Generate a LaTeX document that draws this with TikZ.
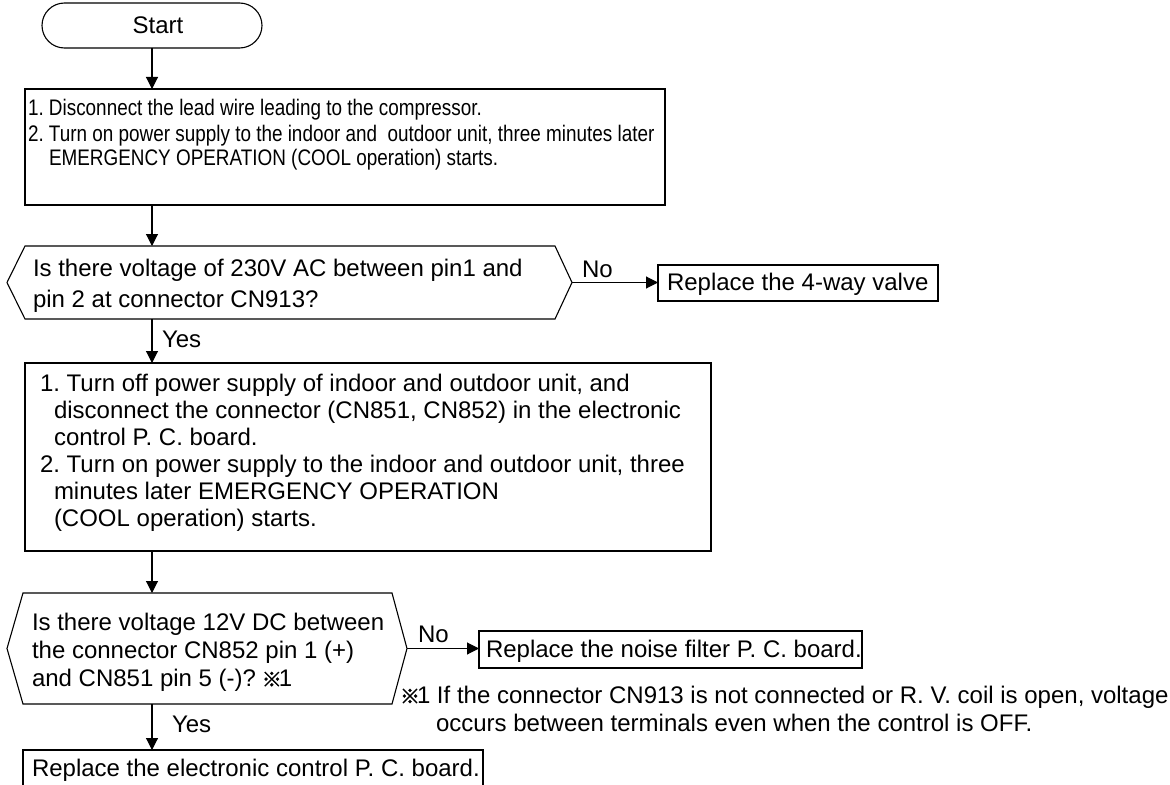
\documentclass[tikz,border=0pt]{standalone}
\usepackage{fontspec}
\setmainfont{Liberation Sans}
\newfontfamily\narrowfont[FakeStretch=0.84]{Liberation Sans}
\newfontfamily\refmarkfont[FakeBold=2]{Noto Sans CJK JP}
\newcommand{\refmark}{\kern-1bp{\refmarkfont\fontsize{20bp}{20bp}\selectfont ※}\kern-3bp}
\usetikzlibrary{arrows.meta}
\frenchspacing
\begin{document}
\begin{tikzpicture}[x=1bp,y=-1bp,
  every node/.style={inner sep=0pt, outer sep=0pt},
  terminal/.style={draw, line width=1.1bp, rounded corners=22.5bp, minimum width=220bp, minimum height=45bp},
  procbox/.style={draw, line width=1.1bp},
  resultbox/.style={draw, line width=2.2bp},
  txt/.style={anchor=base west, font=\frenchspacing\fontsize{24bp}{27bp}\selectfont},
  stxt/.style={anchor=base west, font=\frenchspacing\narrowfont\fontsize{22.5bp}{24bp}\selectfont},
  flow/.style={line width=1.1bp, -{Triangle[length=12bp,width=12bp]}},
  decision/.style={line width=1.1bp, line join=miter},
]
\useasboundingbox (0,0) rectangle (1170,785);
\fill[white] (0,0) rectangle (1170,785);
\coordinate (axis) at (152,0);

% Start
\node[terminal] (start) at (152,25.5) {};
\node[txt, anchor=base] (starttxt) at (158,34) {Start};

% Box 1
\node[procbox, minimum width=640bp, minimum height=116bp] (b1) at (345,147) {};
\node[stxt] (b1a) at (28,116) {1. Disconnect the lead wire leading to the compressor.};
\node[stxt] (b1b) at (28,141) {2. Turn on power supply to the indoor and\ \ outdoor unit, three minutes later};
\node[stxt] (b1c) at (49,165) {EMERGENCY OPERATION (COOL operation) starts.};

% Decision 1
\node[minimum width=565bp, minimum height=73bp] (d1) at (289.5,282.5) {};
\draw[decision] (d1.west) -- ([xshift=18bp]d1.north west) -- ([xshift=-17bp]d1.north east) -- (d1.east) -- ([xshift=-17bp]d1.south east) -- ([xshift=18bp]d1.south west) -- cycle;
\node[txt] (d1a) at (33,276.7) {Is there voltage of 230V AC between pin1 and};
\node[txt] (d1b) at (33,307.3) {pin 2 at connector CN913?};
\node[txt] (no1) at (582,277) {No};
\node[txt] (yes1) at (162,347.5) {Yes};

% 4-way valve
\node[resultbox, minimum width=280bp, minimum height=36bp] (valve) at (798,283) {};
\node[txt] (valvetxt) at (667,290.5) {Replace the 4-way valve};

% Box 2
\node[procbox, minimum width=686bp, minimum height=188bp] (b2) at (368,457) {};
\node[txt] (b2a) at (40,391) {1. Turn off power supply of indoor and outdoor unit, and};
\node[txt] (b2b) at (54,418) {disconnect the connector (CN851, CN852) in the electronic};
\node[txt] (b2c) at (54,445) {control P. C. board.};
\node[txt] (b2d) at (40,472) {2. Turn on power supply to the indoor and outdoor unit, three};
\node[txt] (b2e) at (54,499) {minutes later EMERGENCY OPERATION};
\node[txt] (b2f) at (54,526) {(COOL operation) starts.};

% Decision 2
\node[minimum width=400bp, minimum height=111bp] (d2) at (207,648.5) {};
\draw[decision] (d2.west) -- ([xshift=16bp]d2.north west) -- ([xshift=-15bp]d2.north east) -- (d2.east) -- ([xshift=-15bp]d2.south east) -- ([xshift=16bp]d2.south west) -- cycle;
\node[txt] (d2a) at (32,630) {Is there voltage 12V DC between};
\node[txt] (d2b) at (32,658.3) {the connector CN852 pin 1 (+)};
\node[txt] (d2c) at (32,686.7) {and CN851 pin 5 (-)? \refmark1};
\node[txt] (no2) at (418,642) {No};
\node[txt] (yes2) at (172,732) {Yes};

% Noise filter
\node[resultbox, minimum width=383bp, minimum height=37bp] (noise) at (670.5,649.5) {};
\node[txt] (noisetxt) at (486,657) {Replace the noise filter P. C. board.};

% Footnote
\node[txt] (fn1) at (401,703.6) {\refmark1 If the connector CN913 is not connected or R. V. coil is open, voltage};
\node[txt] (fn2) at (436,731.6) {occurs between terminals even when the control is OFF.};

% Final box
\node[resultbox, minimum width=460bp, minimum height=50bp] (final) at (253,775) {};
\node[txt] (finaltxt) at (32,776.6) {Replace the electronic control P. C. board.};

% Connectors
\draw[flow] (start.south) -- (start.south |- b1.north);
\draw[flow] (b1.south -| axis) -- (d1.north -| axis);
\draw[flow] (d1.east) -- (d1.east -| valve.west);
\draw[flow] (d1.south -| axis) -- (b2.north -| axis);
\draw[flow] (b2.south -| axis) -- (d2.north -| axis);
\draw[flow] (d2.east) -- (d2.east -| noise.west);
\draw[flow] (d2.south -| axis) -- (final.north -| axis);
\end{tikzpicture}
\end{document}
